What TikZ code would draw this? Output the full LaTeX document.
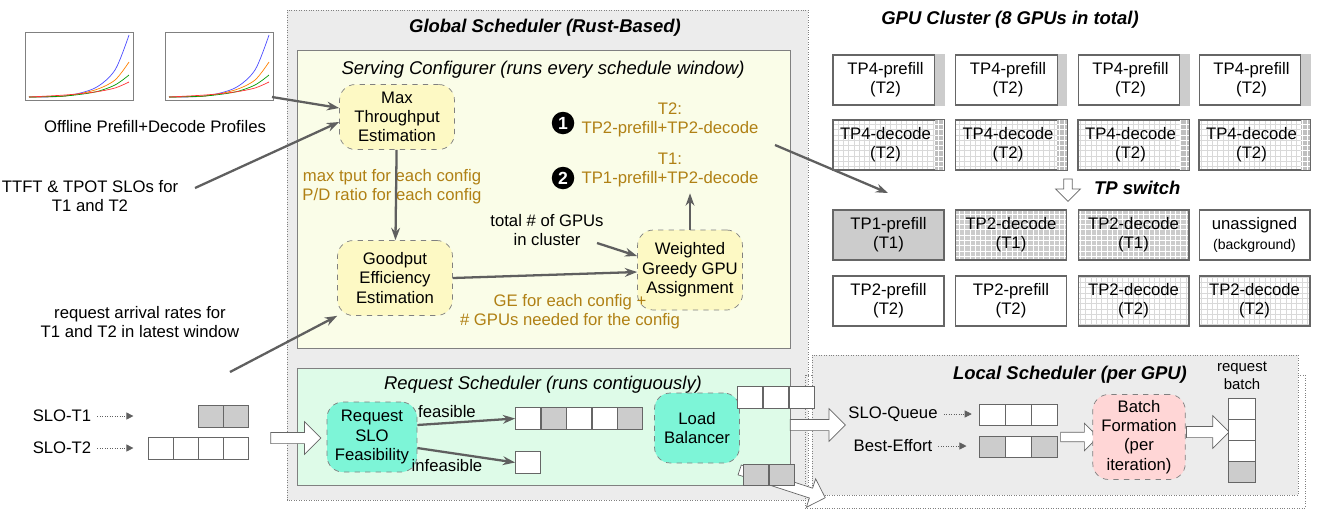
\documentclass[tikz,border=0pt]{standalone}
\usepackage{fontspec}
\setmainfont{Liberation Sans}
\usetikzlibrary{arrows.meta, patterns, shapes.arrows, positioning}
\definecolor{gold}{RGB}{176,128,20}
\definecolor{panel}{RGB}{236,236,236}
\definecolor{cfgbg}{RGB}{250,253,232}
\definecolor{reqbg}{RGB}{222,251,232}
\definecolor{yel}{RGB}{253,249,196}
\definecolor{teal}{RGB}{125,245,215}
\definecolor{pink}{RGB}{255,214,214}
\definecolor{dk}{RGB}{95,95,95}

\begin{document}
\begin{tikzpicture}[
        x = 0.02cm, y = -0.02cm, % one unit per pixel
        font = \fontsize{9.5}{11}\selectfont,
        > = {Stealth[length=7pt, width=5pt]},
        flow/.style = {->, draw = dk, line width = 1.3pt},
        dots/.style = {->, densely dotted, draw = dk, > = {Triangle[length=4pt, width=4pt]}},
        stage/.style = {rounded corners = 9pt, draw = gray, dashed, align = center, inner sep = 1pt},
        cell/.style = {draw = gray!80!black, fill = white, minimum width = 0.5cm, minimum height = 0.43cm, inner sep = 0pt},
        gcell/.style = {cell, fill = gray!40},
        gpu/.style = {draw = gray!80!black, minimum width = 2.22cm, minimum height = 1.0cm, align = center, inner sep = 1pt, line width = 0.6pt},
        grid/.style = {pattern = grid, pattern color = gray!30},
        hollow/.style = {single arrow, draw = gray!80!black, fill = white, minimum width = 0.8cm, single arrow head extend = 0.08cm, inner sep = 1pt, minimum height = #1},
        gold/.style = {text = gold, align = center},
        title/.style = {font = \fontsize{10.5}{12}\selectfont\bfseries\itshape}
    ]
    \useasboundingbox (0,0) rectangle (1321,525);

    % panels
    \draw[densely dotted, gray, fill = panel] (287,10) rectangle (808,500);
    \node[title] at (545,28) {Global Scheduler (Rust-Based)};
    \draw[gray, fill = cfgbg] (297,50) rectangle (790,348);
    \node[font = \fontsize{10.5}{12}\selectfont\itshape] at (543,70) {Serving Configurer (runs every schedule window)};
    \draw[gray, fill = reqbg] (297,368) rectangle (790,485);
    \node[font = \fontsize{10.5}{12}\selectfont\itshape] at (543,385) {Request Scheduler (runs contiguously)};

    \draw[densely dotted, gray] (805,375) rectangle (1305,508);
    \draw[densely dotted, gray, fill = panel] (812,355) rectangle (1298,495);
    \node[title] at (1070,375) {Local Scheduler (per GPU)};

    % offline profiles
    \foreach \px in {5,145} {
        \draw[gray, fill = white] (\px+20,32) rectangle (\px+128,100);
        \draw[blue!70] plot[smooth] coordinates {(\px+24,97) (\px+60,96) (\px+90,88) (\px+110,70) (\px+124,35)};
        \draw[orange] plot[smooth] coordinates {(\px+24,97) (\px+60,96) (\px+90,90) (\px+110,80) (\px+124,62)};
        \draw[green!60!black] plot[smooth] coordinates {(\px+24,97) (\px+60,96) (\px+90,92) (\px+110,85) (\px+124,75)};
        \draw[red!80] plot[smooth] coordinates {(\px+24,97) (\px+60,95) (\px+90,92) (\px+110,88) (\px+124,82)};
    }
    \node (profiles) at (155,127) {Offline Prefill+Decode Profiles};
    \coordinate (profend) at (272,97);

    % serving configurer
    \node[stage, fill = yel, minimum width = 2.3cm, minimum height = 1.3cm] (maxtp) at (397,117) {Max\\Throughput\\Estimation};
    \node[stage, fill = yel, minimum width = 2.3cm, minimum height = 1.5cm] (goodput) at (395,278) {Goodput\\Efficiency\\Estimation};
    \node[stage, fill = yel, minimum width = 2.1cm, minimum height = 1.6cm] (greedy) at (690,270) {Weighted\\Greedy GPU\\Assignment};
    \node[gold] (tputtxt) at (392,187) {max tput for each config\\P/D ratio for each config};
    \node[gold] (getxt) at (570,312) {GE for each config +\\\# GPUs needed for the config};
    \node[gold] (plan2) at (670,120) {T2:\\TP2-prefill+TP2-decode};
    \node[gold] (plan1) at (670,170) {T1:\\TP1-prefill+TP2-decode};
    \node[circle, fill = black, text = white, inner sep = 0pt, minimum size = 0.45cm, font = \bfseries] at (563,123) {1};
    \node[circle, fill = black, text = white, inner sep = 0pt, minimum size = 0.45cm, font = \bfseries] at (563,178) {2};
    \node[align = center] (total) at (547,230) {total \# of GPUs\\in cluster};

    \node[align = center] (slos) at (90,196) {TTFT \& TPOT SLOs for\\T1 and T2};
    \node[align = center] (rates) at (140,322) {request arrival rates for\\T1 and T2 in latest window};
    \coordinate (ratestart) at (230,372);

    \draw[flow] (profend) -- (maxtp.west |- 0,108);
    \draw[flow] (195,188) -- (maxtp.west |- 0,122);
    \draw[flow] (ratestart) -- (goodput.south west);
    \draw[flow] (maxtp) -- (goodput);
    \draw[flow] (goodput.east |- 0,278) -- (greedy.west |- 0,272);
    \draw[flow] (597,243) -- (greedy.west |- 0,256);
    \draw[flow] (greedy.north) -- (plan1.south -| greedy.north);
    \coordinate (gpuin) at (888,193);
    \draw[flow] (775,145) -- (gpuin);

    % GPU cluster
    \node[title] at (1010,20) {GPU Cluster (8 GPUs in total)};
    \foreach \c/\x in {1/888.5,2/1011,3/1133.5,4/1254.5} {
        \node[gpu] (pf\c) at (\x,80) {};
        \fill[gray!40] ([xshift=-0.2cm]pf\c.north east) rectangle (pf\c.south east);
        \draw[gray!80!black] ([xshift=-0.2cm]pf\c.north east) -- ([xshift=-0.2cm]pf\c.south east);
        \node[gpu, draw = none] at (\x-3,80) {TP4-prefill\\(T2)};
        \node[gpu, grid] (dc\c) at (\x,145) {};
        \fill[gray!50] ([xshift=-0.2cm]dc\c.north east) rectangle (dc\c.south east);
        \fill[pattern = grid, pattern color = white] ([xshift=-0.2cm]dc\c.north east) rectangle (dc\c.south east);
        \draw[gray!80!black] (dc\c.north west) rectangle (dc\c.south east);
        \node[gpu, draw = none] at (\x-3,145) {TP4-decode\\(T2)};
    }
    \node[gpu, fill = gray!40] (n1) at (888.5,235) {TP1-prefill\\(T1)};
    \foreach \c/\x in {2/1011,3/1133.5} {
        \node[gpu, fill = gray!40] (n\c) at (\x,235) {};
        \fill[pattern = grid, pattern color = white] (n\c.north west) rectangle (n\c.south east);
        \node[gpu] at (\x,235) {TP2-decode\\(T1)};
    }
    \node[gpu] (n4) at (1254.5,235) {unassigned\\{\fontsize{8}{9.5}\selectfont(background)}};
    \node[gpu] (m1) at (888.5,301) {TP2-prefill\\(T2)};
    \node[gpu] (m2) at (1011,301) {TP2-prefill\\(T2)};
    \node[gpu, grid] (m3) at (1133.5,301) {TP2-decode\\(T2)};
    \node[gpu, grid] (m4) at (1254.5,301) {TP2-decode\\(T2)};
    \node[hollow = 0.45cm, minimum width = 0.5cm, rotate = -90] (tpsw) at (1068,188) {};
    \node[title, anchor = west] at (1088,188) {TP switch};

    % request scheduler
    \node (slot1) at (62,416) {SLO-T1};
    \node (slot2) at (62,448) {SLO-T2};
    \draw[dots] (slot1.east) -- ++(36,0);
    \draw[dots] (slot2.east) -- ++(36,0);
    \foreach \i in {0,1} \node[gcell] (qa\i) at (211+25*\i,416.5) {};
    \foreach \i in {0,...,3} \node[cell] (qb\i) at (161+25*\i,448.5) {};
    \node[hollow = 1.0cm, minimum width = 0.65cm] (inarrow) at (293,438) {};

    \node[stage, fill = teal, minimum width = 1.8cm, minimum height = 1.4cm] (feas) at (372,437) {Request\\SLO\\Feasibility};
    \foreach \i/\s in {0/cell,1/gcell,2/cell,3/cell,4/gcell} \node[\s] (ok\i) at (528+25.5*\i,418.5) {};
    \node[cell] (bad) at (528,462.5) {};
    \draw[flow] (feas.east |- 0,425) -- (ok0.west);
    \draw[flow] (feas.east |- 0,448) -- (bad.west);
    \node at (447,412) {feasible};
    \node at (447,466) {infeasible};

    \node[stage, fill = teal, minimum width = 1.7cm, minimum height = 1.4cm] (lb) at (697,428) {Load\\Balancer};
    \foreach \i in {0,1,2} \node[cell] (lq\i) at (750+26*\i,397.5) {};
    \node[hollow = 1.1cm, minimum width = 0.65cm] (out1) at (815,425) {};
    \node[hollow = 1.8cm, minimum width = 0.6cm, rotate = -18] (out2) at (780,483) {};
    \foreach \i in {0,1} \node[gcell] (lg\i) at (756+26*\i,475) {};

    % local scheduler
    \node (sloq) at (893,414) {SLO-Queue};
    \node (beff) at (893,446) {Best-Effort};
    \draw[dots] (sloq.east) -- ++(28,0);
    \draw[dots] (beff.east) -- ++(28,0);
    \foreach \i in {0,1,2} \node[cell, minimum width = 0.52cm] (sq\i) at (992+26*\i,415) {};
    \foreach \i/\s in {0/gcell,1/cell,2/gcell} \node[\s, minimum width = 0.52cm] (bq\i) at (992+26*\i,447) {};
    \node[hollow = 0.75cm, minimum width = 0.55cm] (tobatch) at (1077,437) {};
    \node[stage, fill = pink, minimum width = 1.85cm, minimum height = 1.7cm] (batch) at (1139,437) {Batch\\Formation\\(per\\iteration)};
    \node[hollow = 0.85cm, minimum width = 0.65cm] (tobatchout) at (1205,432) {};
    \foreach \i/\s in {0/cell,1/cell,2/cell,3/gcell} \node[\s, minimum width = 0.54cm, minimum height = 0.42cm] (rb\i) at (1241.5,409+21*\i) {};
    \node[align = center, font = \fontsize{8.5}{10}\selectfont] at (1242,376) {request\\batch};
\end{tikzpicture}
\end{document}
